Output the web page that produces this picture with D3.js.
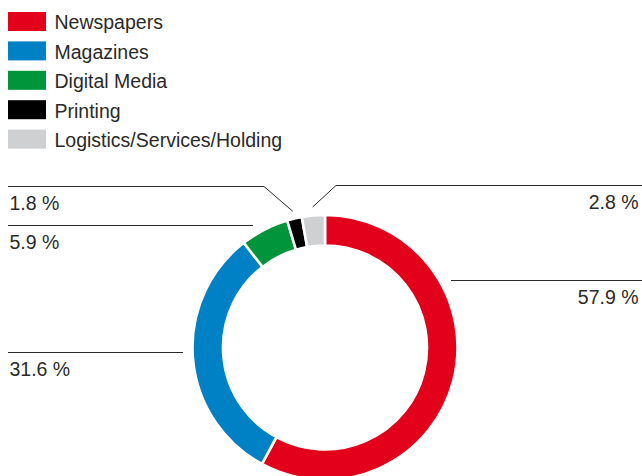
<!DOCTYPE html>
<html>
<head>
<meta charset="utf-8">
<script src="https://cdn.jsdelivr.net/npm/d3@7"></script>
<style>
  html, body { margin: 0; padding: 0; background: #fff; }
  svg text { font-family: "Liberation Sans", Arial, Helvetica, sans-serif; fill: #2a2a2a; }
</style>
</head>
<body>
<svg id="chart" width="642" height="476"></svg>
<script>
// Revenue share by segment
const segments = ["Newspapers", "Magazines", "Digital Media", "Printing", "Logistics/Services/Holding"];
const shares   = [57.9, 31.6, 5.9, 1.8, 2.8];
const colors   = ["#e2001a", "#0081c6", "#00953a", "#000000", "#cfd0d2"];
const labels   = ["57.9 %", "31.6 %", "5.9 %", "1.8 %", "2.8 %"];

const width = 642, height = 476;
const cx = 325, cy = 347.5, rOuter = 132.5, rInner = 102;

const svg = d3.select("#chart");

// Legend
const legend = svg.append("g");
const rowY = d3.scaleLinear().domain([0, 1]).range([12, 41.4]);
segments.forEach((name, i) => {
  const y = rowY(i);
  legend.append("rect")
    .attr("x", 8).attr("y", y).attr("width", 38).attr("height", 19)
    .attr("fill", colors[i]);
  legend.append("text")
    .attr("x", 54.5).attr("y", y + 17.4)
    .attr("font-size", 19.5)
    .text(name);
});

// Donut
const pie = d3.pie().sort(null).value(d => d).startAngle(0).endAngle(2 * Math.PI);
const arcs = pie(shares);
const arc = d3.arc().innerRadius(rInner).outerRadius(rOuter);

const ring = svg.append("g").attr("transform", `translate(${cx},${cy})`);
ring.selectAll("path")
  .data(arcs)
  .join("path")
  .attr("d", arc)
  .attr("fill", (d, i) => colors[i])
  .attr("stroke", "#fff")
  .attr("stroke-width", 2.6)
  .attr("stroke-linejoin", "miter");

// Leader lines and value labels
const midPoint = (d, r) => {
  const a = (d.startAngle + d.endAngle) / 2;
  return [cx + r * Math.sin(a), cy - r * Math.cos(a)];
};

const lineColor = "#2a2a2a";
const leaders = [
  // index, line points builder, label position, anchor
  { i: 0, pts: () => [[451, 280.5], [642, 280.5]], lx: 638.5, ly: 303.5, anchor: "end" },
  { i: 1, pts: () => [[8, 352.5], [183, 352.5]], lx: 9.5, ly: 375.5, anchor: "start" },
  { i: 2, pts: () => [[8, 225.5], [253, 225.5]], lx: 9.5, ly: 248.5, anchor: "start" },
  { i: 3, pts: d => [[8, 186.5], [264, 186.5], midPoint(d, 140)], lx: 9.5, ly: 210, anchor: "start" },
  { i: 4, pts: d => [midPoint(d, 141), [336, 185.5], [642, 185.5]], lx: 638.5, ly: 208.5, anchor: "end" }
];

const line = d3.line();
leaders.forEach(l => {
  svg.append("path")
    .attr("d", line(l.pts(arcs[l.i])))
    .attr("fill", "none")
    .attr("stroke", lineColor)
    .attr("stroke-width", 1);
  svg.append("text")
    .attr("x", l.lx).attr("y", l.ly)
    .attr("text-anchor", l.anchor)
    .attr("font-size", 19.5)
    .text(labels[l.i]);
});
</script>
</body>
</html>
